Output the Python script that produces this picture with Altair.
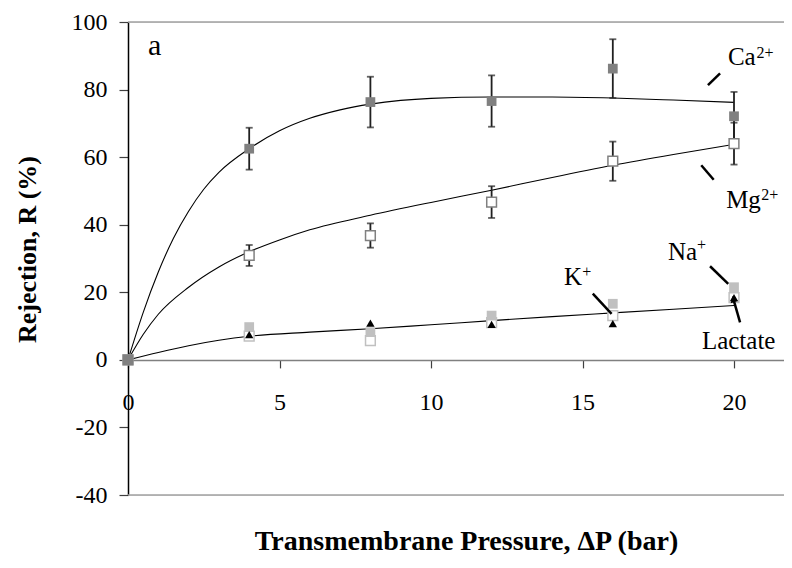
import altair as alt
import pandas as pd

# ---------------- data ----------------
pressure = [0, 4, 8, 12, 16, 20]
ca = [0, 62.5, 76.3, 76.6, 86.2, 72.1]
ca_err = [0, 6.2, 7.5, 7.6, 8.7, 7.2]
mg = [0, 30.9, 36.8, 46.7, 58.8, 64.0]
mg_err = [0, 3.1, 3.6, 4.7, 5.8, 6.2]
na = [0, 9.7, 8.2, 13.1, 16.6, 21.5]
k = [0, 7.0, 5.7, 11.0, 13.1, 18.4]
lactate = [0, 7.5, 10.9, 10.5, 10.7, 18.4]

# fitted curves
ca_fit_x = [0, 0.5, 1, 1.5, 2, 2.5, 3, 4, 5, 6, 7, 8, 9, 10, 12, 14, 16, 18, 20]
ca_fit_y = [0, 14, 26, 36, 44, 50.5, 55.5, 62.5, 67.8, 71.5, 74, 75.7, 76.8, 77.4, 77.8, 77.8, 77.5, 76.9, 76.2]
mg_fit_x = [0, 0.5, 1, 2, 3, 4, 5, 6, 8, 10, 12, 14, 16, 18, 20]
mg_fit_y = [0, 7.5, 13.5, 21.5, 27.5, 32, 35.5, 38.5, 42.8, 46.6, 50.2, 54, 57.6, 60.8, 63.8]
mono_fit_x = [0, 1, 2, 3, 4, 6, 8, 10, 12, 14, 16, 18, 20]
mono_fit_y = [0, 2.2, 4.2, 5.8, 7.0, 8.2, 9.2, 10.4, 11.6, 12.8, 13.9, 15, 16.1]

# annotation labels
label_text = ["Ca", "Mg", "Na", "K", "Lactate", "a"]
label_x = [19.80, 19.74, 17.82, 14.39, 18.94, 0.66]
label_y = [87.2, 44.8, 29.7, 22.3, 3.3, 90.2]
sup_text = ["2+", "2+", "+", "+"]
sup_x = [20.74, 20.90, 18.78, 14.99]
sup_y = [89.3, 47.2, 32.4, 24.4]

# leader lines (start -> end)
lead_x = [19.14, 18.92, 19.21, 15.34, 20.2]
lead_y = [81.3, 57.6, 27.7, 19.6, 11.1]
lead_x2 = [19.54, 19.33, 19.81, 15.96, 19.98]
lead_y2 = [84.8, 53.3, 22.5, 13.6, 18.0]

# ---------------- layout ----------------
W, H = 656, 473
XMAX = 21.65
FONT = "'Liberation Serif', 'Times New Roman', Times, serif"

pts = pd.DataFrame({
    "p": pressure * 5,
    "v": ca + mg + na + k + lactate,
    "err": ca_err + mg_err + [0] * 18,
    "s": ["Ca"] * 6 + ["Mg"] * 6 + ["Na"] * 6 + ["K"] * 6 + ["Lac"] * 6,
})
pts["lo"] = pts["v"] - pts["err"]
pts["hi"] = pts["v"] + pts["err"]

fits = pd.DataFrame({
    "p": ca_fit_x + mg_fit_x + mono_fit_x,
    "v": ca_fit_y + mg_fit_y + mono_fit_y,
    "s": ["Ca"] * len(ca_fit_x) + ["Mg"] * len(mg_fit_x) + ["Mono"] * len(mono_fit_x),
})
labels = pd.DataFrame({"p": label_x, "v": label_y, "t": label_text})
sups = pd.DataFrame({"p": sup_x, "v": sup_y, "t": sup_text})
leads = pd.DataFrame({"p": lead_x, "v": lead_y, "p2": lead_x2, "v2": lead_y2})

xs = alt.Scale(domain=[0, XMAX], nice=False, zero=False)
ys = alt.Scale(domain=[-40, 100], nice=False, zero=False)

x_axis = alt.Axis(
    values=[0, 5, 10, 15, 20], labelExpr="'' + datum.value", grid=False,
    offset=-135.1, domainColor="#808080", domainWidth=1.5,
    tickColor="#404040", tickSize=8, tickWidth=1.2, labelPadding=23,
    labelFlush=False, labelBound=False,
    labelFont=FONT, labelFontSize=24, labelColor="black",
    title="Transmembrane Pressure, ΔP (bar)", titleX=338, titleY=190,
    titleFont=FONT, titleFontSize=28, titleFontWeight="bold", titleColor="black",
    titleBaseline="alphabetic", titleAlign="center",
)
y_axis = alt.Axis(
    values=[-40, -20, 0, 20, 40, 60, 80, 100], labelExpr="'' + datum.value", grid=False,
    domainColor="black", domainWidth=1.5, tickColor="#404040", tickSize=9, tickWidth=1.2,
    labelPadding=12, labelFont=FONT, labelFontSize=24, labelColor="black",
    title="Rejection, R (%)", titleX=-101, titleY=227, titleAngle=270,
    titleFont=FONT, titleFontSize=26, titleFontWeight="bold", titleColor="black",
    titleAlign="center", titleBaseline="middle",
)


def X(field="p"):
    return alt.X(f"{field}:Q", scale=xs, axis=x_axis)


def Y(field="v"):
    return alt.Y(f"{field}:Q", scale=ys, axis=y_axis)


base_pts = alt.Chart(pts)

fit_lines = alt.Chart(fits).mark_line(
    color="black", strokeWidth=1.1, interpolate="monotone"
).encode(x=X(), y=Y(), detail="s:N")

frame = alt.Chart(pd.DataFrame({"a": [0]})).mark_rule(color="#a0a0a0", strokeWidth=1.5)
top_border = frame.encode(x=alt.value(0), x2=alt.value(W), y=alt.value(0))
bottom_border = frame.encode(x=alt.value(0), x2=alt.value(W), y=alt.value(H))

errs = base_pts.transform_filter("datum.err > 0")
err_rule = errs.mark_rule(color="#202020", strokeWidth=1.8).encode(
    x=X(), y=Y("lo"), y2="hi:Q"
)
err_cap_lo = errs.mark_tick(orient="horizontal", color="#202020", size=7, thickness=1.8).encode(
    x=X(), y=Y("lo")
)
err_cap_hi = errs.mark_tick(orient="horizontal", color="#202020", size=7, thickness=1.8).encode(
    x=X(), y=Y("hi")
)


def sq(series, fill, stroke, sw=0):
    return base_pts.transform_filter(f"datum.s == '{series}'").mark_point(
        shape="square", size=95, filled=True, fill=fill, stroke=stroke,
        strokeWidth=sw, opacity=1,
    ).encode(x=X(), y=Y())


k_pts = sq("K", "white", "#c0c0c0", 1.5)
na_pts = sq("Na", "#c0c0c0", "#c0c0c0", 0)
mg_pts = sq("Mg", "white", "#808080", 1.5)
ca_pts = sq("Ca", "#808080", "#808080", 0)
lac_pts = base_pts.transform_filter("datum.s == 'Lac'").mark_point(
    shape="triangle-up", size=70, filled=True, fill="black", opacity=1
).encode(x=X(), y=Y())

lead_lines = alt.Chart(leads).mark_rule(color="black", strokeWidth=2.5).encode(
    x=X(), y=Y(), x2="p2:Q", y2="v2:Q"
)
arrow_head = alt.Chart(leads.tail(1)).mark_point(
    shape="triangle-up", size=55, filled=True, fill="black", opacity=1, angle=344
).encode(x=X("p2"), y=Y("v2"))

label_main = alt.Chart(labels).transform_filter("datum.t != 'a'").mark_text(
    font=FONT, fontSize=25, align="left", baseline="alphabetic", color="black"
).encode(x=X(), y=Y(), text="t:N")
label_a = alt.Chart(labels).transform_filter("datum.t == 'a'").mark_text(
    font=FONT, fontSize=30, align="left", baseline="alphabetic", color="black"
).encode(x=X(), y=Y(), text="t:N")
label_sup = alt.Chart(sups).mark_text(
    font=FONT, fontSize=16, align="left", baseline="alphabetic", color="black"
).encode(x=X(), y=Y(), text="t:N")

origin = base_pts.transform_filter("datum.s == 'Ca' && datum.p == 0").mark_point(
    shape="square", size=95, filled=True, fill="#808080", opacity=1
).encode(x=X(), y=Y())

chart = alt.layer(
    fit_lines,
    top_border, bottom_border,
    err_rule, err_cap_lo, err_cap_hi,
    k_pts, na_pts, lac_pts, mg_pts, ca_pts,
    lead_lines, arrow_head,
    label_main, label_a, label_sup,
    origin,
).properties(
    width=W, height=H,
    autosize=alt.AutoSizeParams(type="none"),
    padding={"left": 120, "top": 14, "right": 0, "bottom": 60},
).configure_view(stroke=None).configure(background="white", font=FONT)

chart.save("out.html", embed_options={"renderer": "svg", "actions": False})
